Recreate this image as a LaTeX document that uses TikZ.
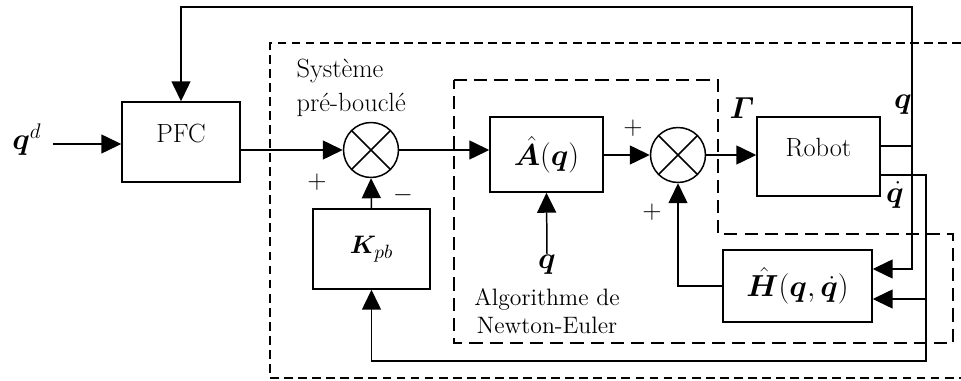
\documentclass[tikz,border=0pt]{standalone}
\usepackage{amsmath,bm}
\usetikzlibrary{arrows.meta}
\begin{document}
\begin{tikzpicture}[x=0.02cm,y=-0.02cm,
        line width=0.85pt,
        >={Triangle[length=0.4cm,width=0.38cm]},
        font=\fontsize{15}{17}\selectfont,
        block/.style={draw, rectangle, inner sep=0pt},
        uptext/.style={text depth=0.36cm},
        sum/.style={draw, circle, minimum size=1.1cm, inner sep=0pt,
            path picture={\draw (path picture bounding box.south west) -- (path picture bounding box.north east)
                (path picture bounding box.north west) -- (path picture bounding box.south east);}},
        mathlbl/.style={font=\fontsize{18}{20}\selectfont},
        outerbox/.style={dash pattern=on 5pt off 3pt, line width=0.75pt},
        innerbox/.style={dash pattern=on 7.5pt off 4pt, line width=0.75pt}]
        \useasboundingbox (0,0) rectangle (961,381);
        % Pre-looped system frame (open on the right)
        \draw[outerbox] (961,43) -- (270,43) -- (270,378) -- (961,378);
        % Newton-Euler frame
        \draw[innerbox] (454,80) -- (718,80) -- (718,234) -- (953,234) -- (953,343) -- (454,343) -- cycle;
        % Blocks
        \node[block, uptext, minimum width=2.36cm, minimum height=1.6cm] (PFC) at (181,142) {PFC};
        \node[sum] (S1) at (371,150) {};
        \node[block, minimum width=2.26cm, minimum height=1.5cm, mathlbl] (A) at (546.5,154.5) {$\hat{\bm{A}}(\bm{q})$};
        \node[sum] (S2) at (678,155) {};
        \node[block, uptext, minimum width=2.46cm, minimum height=1.58cm] (Robot) at (818.5,156.5) {Robot};
        \node[block, minimum width=2.34cm, minimum height=1.6cm, font=\fontsize{15}{17}\selectfont] (Kpb) at (371.5,249) {$\bm{K}_{pb}$};
        \node[block, minimum width=2.98cm, minimum height=1.44cm, mathlbl] (H) at (797.5,286) {$\hat{\bm{H}}(\bm{q},\dot{\bm{q}})$};
        % Labels
        \node[mathlbl] (qd) at (27,140) {$\bm{q}^{d}$};
        \node[align=left, anchor=west, font=\fontsize{15}{19.5}\selectfont] (sys) at (290,88) {Système\\pré-bouclé};
        \node (p1) at (317,182) {$+$};
        \node (m1) at (403,195) {$-$};
        \node (p2) at (633,128) {$+$};
        \node (p3) at (652,212) {$+$};
        \node[mathlbl] (G) at (742,108) {$\bm{\varGamma}$};
        \node[mathlbl] (qlbl) at (903,105) {$\bm{q}$};
        \node[mathlbl, inner sep=0pt] (qdlbl) at (895,195) {$\dot{\bm{q}}$};
        \node[mathlbl, anchor=north, inner sep=0pt] (qA) at (547,254) {$\bm{q}$};
        \node[align=center, font=\fontsize{13.5}{16}\selectfont] (NE) at (547,311) {Algorithme de\\Newton-Euler};
        % Forward path
        \coordinate (qin) at (53,144);
        \draw[->] (qin) -- (qin -| PFC.west);
        \draw[->] (PFC.east |- S1) -- (S1.west);
        \draw[->] (S1.east) -- (A.west |- S1);
        \draw[->] (A.east |- S2) -- (S2.west);
        \draw[->] (S2.east) -- (Robot.west |- S2);
        \draw[->] (Kpb.north) -- (S1.south);
        \draw[->] (qA.north) -- (A.south);
        \draw[->] (H.west) -| (S2.south);
        % Feedback of q and dq
        \coordinate (qout) at (912,146);
        \coordinate (qtop) at (912,7);
        \coordinate (hin1) at (912,269);
        \coordinate (qdout) at (926,175);
        \coordinate (hin2) at (926,299);
        \coordinate (qdbot) at (926,361);
        \draw (Robot.east |- qout) -- (qout);
        \draw[->] (qout) -- (qtop) -| (PFC.north);
        \draw[->] (qout) -- (hin1) -- (H.east |- hin1);
        \draw[->] (Robot.east |- qdout) -| (qdbot) -| (Kpb.south);
        \draw[->] (hin2) -- (H.east |- hin2);
    \end{tikzpicture}
\end{document}
